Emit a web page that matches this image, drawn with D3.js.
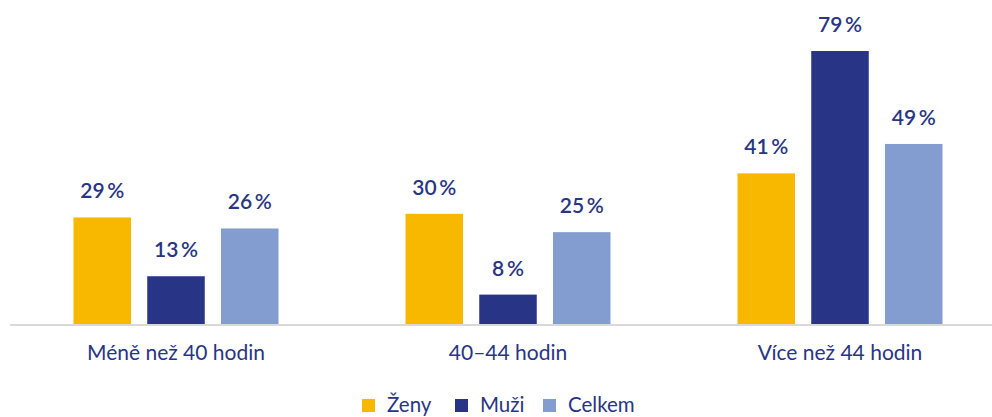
<!DOCTYPE html>
<html>
<head>
<meta charset="utf-8">
<script src="https://cdn.jsdelivr.net/npm/d3@7"></script>
<style>
  body { margin: 0; background: #fff; }
  text { font-family: Lato, "Open Sans", sans-serif; fill: #283583; }
</style>
</head>
<body>
<div id="chart"></div>
<script>
(function() {

  let width  = 992,
      height = 417;

  // data
  let categories = ["Méně než 40 hodin", "40–44 hodin", "Více než 44 hodin"];
  let series     = ["Ženy", "Muži", "Celkem"];
  let zeny       = [29, 30, 41];
  let muzi       = [13, 8, 79];
  let celkem     = [26, 25, 49];

  let colors = ["#F9B800", "#283587", "#839DD1"];

  let rows = categories.map((c, i) => ({
    category: c,
    values: [zeny[i], muzi[i], celkem[i]]
  }));

  let svg = d3.select('#chart')
    .append ("svg")
    .attr   ("width", width)
    .attr   ("height", height);

  let baseline = 324;

  // outer scale: one band per category
  let x0 = d3.scaleBand()
    .domain (categories)
    .range  ([10, 1006]);

  // inner scale: bars inside a category
  let groupWidth = 205;
  let x1 = d3.scaleBand()
    .domain       (series)
    .range        ([0, groupWidth])
    .paddingInner (0.22);

  // the tallest bar is cut at the top of the plot in the original
  let y = d3.scaleLinear()
    .domain ([0, 74.3])
    .range  ([baseline, 51])
    .clamp  (true);

  let groups = svg.selectAll(".group")
    .data  (rows)
    .enter ().append("g")
    .attr  ("class", "group")
    .attr  ("transform", (d) => `translate(${x0(d.category) + (x0.bandwidth() - groupWidth) / 2},0)`);

  let cells = groups.selectAll(".bar")
    .data  ((d) => d.values.map((v, i) => ({ key: series[i], value: v, i: i })))
    .enter ();

  cells.append("rect")
    .attr ("class", "bar")
    .attr ("x", (d) => x1(d.key))
    .attr ("y", (d) => y(d.value))
    .attr ("width", x1.bandwidth())
    .attr ("height", (d) => baseline - y(d.value))
    .attr ("fill", (d) => colors[d.i]);

  cells.append("text")
    .attr ("x", (d) => x1(d.key) + x1.bandwidth() / 2)
    .attr ("y", (d) => y(d.value) - 19)
    .attr ("text-anchor", "middle")
    .style("font-size", "21px")
    .style("font-weight", 600)
    .text ((d) => `${d.value}\u2009%`);

  // axis line
  svg.append("line")
    .attr ("x1", 10)
    .attr ("x2", width)
    .attr ("y1", baseline + 1)
    .attr ("y2", baseline + 1)
    .attr ("stroke", "#d9d9d9")
    .attr ("stroke-width", 2);

  // category labels
  svg.selectAll(".cat")
    .data  (categories)
    .enter ().append("text")
    .attr  ("class", "cat")
    .attr  ("x", (d) => x0(d) + x0.bandwidth() / 2)
    .attr  ("y", 360)
    .attr  ("text-anchor", "middle")
    .style ("font-size", "21px")
    .text  ((d) => d);

  // legend
  let legendX = [362, 455, 543];
  let legend = svg.selectAll(".legend")
    .data  (series)
    .enter ().append("g")
    .attr  ("class", "legend")
    .attr  ("transform", (d, i) => `translate(${legendX[i]},399)`);

  legend.append("rect")
    .attr ("width", 13)
    .attr ("height", 13)
    .attr ("fill", (d, i) => colors[i]);

  legend.append("text")
    .attr  ("x", 25)
    .attr  ("y", 13)
    .style ("font-size", "20.5px")
    .text  ((d) => d);

})();
</script>
</body>
</html>
